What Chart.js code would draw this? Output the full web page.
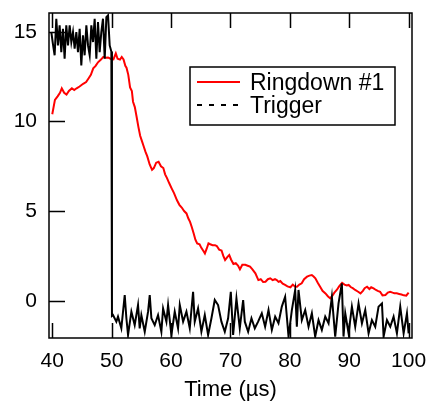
<!DOCTYPE html>
<html>
<head>
<meta charset="utf-8">
<script src="https://cdn.jsdelivr.net/npm/chart.js@4/dist/chart.umd.min.js"></script>
<style>
  html, body { margin: 0; padding: 0; background: #fff; }
  #wrap { width: 428px; height: 403px; }
</style>
</head>
<body>
<div id="wrap"><canvas id="c" width="428" height="403"></canvas></div>
<script>
// time axis in µs
const ringdownX = [40.0, 40.45, 40.9, 41.3, 41.6, 42.0, 42.4, 42.8, 43.3, 43.7, 44.1, 44.6, 45.2, 45.7, 46.1, 46.5, 46.9, 47.3, 47.7, 48.2,
  48.6, 49.0, 49.4, 49.8, 50.3, 50.7, 51.0, 51.4, 51.7, 52.0, 52.3, 52.5, 52.8, 53.1, 53.4, 53.6, 53.9, 54.2, 54.5, 54.8,
  55.1, 55.4, 55.7, 56.0, 56.4, 56.8, 57.1, 57.5, 57.9, 58.3, 58.7, 59.0, 59.3, 59.7, 60.1, 60.5, 61.0, 61.4, 61.8, 62.2,
  62.6, 62.9, 63.2, 63.5, 63.8, 64.1, 64.4, 64.8, 65.1, 65.4, 65.7, 66.0, 66.3, 66.6, 67.0, 67.4, 67.7, 68.1, 68.5, 68.8,
  69.1, 69.5, 69.8, 70.1, 70.5, 70.9, 71.3, 71.6, 72.0, 72.5, 72.9, 73.3, 73.7, 74.2, 74.5, 74.7, 75.1, 75.5, 75.9, 76.3,
  76.7, 77.1, 77.5, 77.8, 78.1, 78.4, 78.8, 79.2, 79.6, 80.1, 80.5, 80.9, 81.2, 81.6, 82.0, 82.4, 82.9, 83.3, 83.7, 84.0,
  84.3, 84.7, 85.1, 85.5, 86.0, 86.4, 86.8, 87.2, 87.5, 87.9, 88.3, 88.8, 89.2, 89.6, 89.9, 90.3, 90.6, 91.0, 91.5, 91.9,
  92.3, 92.6, 93.0, 93.4, 93.7, 94.1, 94.5, 94.8, 95.2, 95.6, 96.1, 96.5, 96.9, 97.3, 97.6, 98.0, 98.4, 98.8, 99.2, 99.6, 100.0];
const ringdownY = [10.4, 11.2, 11.4, 11.6, 11.85, 11.6, 11.5, 11.7, 11.85, 11.75, 11.85, 11.95, 12.1, 12.2, 12.4, 12.6, 12.96, 13.1, 13.3, 13.45,
  13.6, 13.55, 13.57, 13.5, 13.46, 13.8, 13.5, 13.45, 13.6, 13.46, 13.1, 13.0, 12.6, 11.9, 11.7, 11.1, 10.8, 10.26, 9.7, 9.2,
  8.9, 8.6, 8.3, 8.05, 7.6, 7.3, 7.4, 7.7, 7.75, 7.5, 7.4, 7.05, 6.85, 6.55, 6.27, 6.0, 5.6, 5.35, 5.2, 5.0,
  4.87, 4.6, 4.4, 4.1, 3.76, 3.4, 3.2, 3.15, 2.95, 2.8, 2.64, 2.9, 3.2, 3.15, 3.1, 3.1, 3.05, 2.85, 2.8, 2.5,
  2.27, 2.45, 2.55, 2.3, 2.05, 2.1, 1.95, 1.75, 2.0, 2.0, 1.95, 1.9, 1.75, 1.53, 1.3, 1.15, 1.2, 1.05, 1.06, 1.2,
  1.25, 1.15, 1.2, 1.15, 1.05, 1.1, 0.95, 0.88, 0.8, 0.75, 0.9, 0.78, 0.78, 0.9, 0.97, 1.2, 1.34, 1.4, 1.43, 1.35,
  1.25, 1.0, 0.78, 0.55, 0.41, 0.25, 0.13, 0.3, 0.45, 0.6, 0.8, 1.0, 0.9, 0.85, 0.88, 0.75, 0.7, 0.6, 0.5, 0.41,
  0.55, 0.7, 0.78, 0.65, 0.75, 0.69, 0.6, 0.55, 0.5, 0.3, 0.32, 0.45, 0.5, 0.45, 0.42, 0.41, 0.38, 0.35, 0.3, 0.28, 0.45];

const triggerX = [39.84, 40.12, 40.40, 40.68, 40.96, 41.24, 41.52, 41.80, 42.08, 42.36, 42.65, 42.93, 43.21, 43.49, 43.77, 44.05, 44.33, 44.61,
  44.89, 45.17, 45.45, 45.74, 46.02, 46.30, 46.58, 46.86, 47.14, 47.42, 47.70, 47.98, 48.26, 48.54, 48.83, 49.11, 49.39, 49.67,
  49.95, 50.05,
  50.23, 50.79, 51.07, 51.63, 52.20, 52.48, 52.76, 53.32, 53.88, 54.44, 54.72, 55.00, 55.57, 56.13, 56.41, 56.69, 57.25,
  57.81, 58.37, 58.66, 59.22, 59.50, 60.06, 60.62, 61.18, 61.47, 62.03, 62.59, 63.15, 63.71, 63.99, 64.55, 65.11, 65.68,
  66.24, 66.80, 67.36, 67.92, 68.48, 69.05, 69.61, 70.06, 70.45, 71.01, 71.57, 72.14, 72.42, 72.98, 73.54, 74.10, 74.66,
  75.28, 75.84, 76.41, 76.97, 77.53, 78.09, 78.65, 79.21, 79.78, 80.34, 80.90, 81.18, 81.46, 82.02, 82.59, 83.15, 83.71,
  84.27, 84.83, 85.39, 85.96, 86.52, 87.08, 87.64, 88.20, 88.76, 89.04, 89.33, 89.89, 90.45, 91.01, 91.57, 92.14, 92.70,
  93.26, 93.82, 94.38, 94.94, 95.51, 95.79, 96.35, 96.91, 97.47, 98.03, 98.59, 99.16, 99.72, 100.0];
const triggerY = [14.99, 14.3, 13.69, 15.73, 14.24, 15.36, 13.87, 15.17, 13.5, 15.36, 14.24, 15.36, 14.43, 14.99, 14.06, 14.99, 13.87, 15.17,
  13.13, 14.8, 13.69, 15.36, 14.24, 13.69, 15.36, 14.43, 15.73, 13.5, 15.54, 13.87, 14.99, 15.73, 13.5, 15.82, 15.92, 14.24,
  13.9, -0.85,
  -0.80, -1.17, -0.89, -1.54, 0.32, -0.98, -1.91, -0.61, -1.36, -0.24, -1.54, -0.80, -1.73, -0.61, 0.32, -0.98, -1.36,
  -0.80, -1.73, -0.43, -1.17, -0.24, -1.91, -0.61, -1.54, -0.24, -1.17, -0.61, -1.54, 0.50, -1.17, -0.43, -1.73, -0.80,
  -1.91, -0.98, 0.04, -0.24, -1.17, -1.73, -0.98, 0.50, -1.91, 0.13, -1.54, 0.04, -1.17, -1.73, -0.98, -1.54, -1.17,
  -0.70, -1.45, -0.52, -1.63, -0.89, -1.26, -0.33, 0.22, -2.0, -0.52, 0.60, -1.45, 0.60, -1.08, -0.52, -1.45, -0.70,
  -2.0, -1.08, -1.63, -0.89, -1.26, 0.22, -2.0, -0.15, 0.97, -2.0, -0.70, -1.82, -0.33, -1.45, -0.15, -1.26, -0.52,
  -1.82, -1.08, -1.45, -0.33, -0.15, -2.0, -1.08, -1.45, -0.89, -1.82, -0.33, -1.82, -0.70, -1.82];

const xTicks = [40, 50, 60, 70, 80, 90, 100];
const yTicks = [0, 5, 10, 15];
const seriesNames = ['Ringdown #1', 'Trigger'];

const FONT = "'Liberation Sans', Arial, sans-serif";

function toPoints(xs, ys) {
  return xs.map((x, i) => ({x: x, y: ys[i]}));
}

// box around the plot with inward ticks (Igor style)
const framePlugin = {
  id: 'frame',
  afterDatasetsDraw(chart) {
    const {ctx, chartArea: a, scales} = chart;
    ctx.save();
    ctx.strokeStyle = '#000';
    ctx.lineWidth = 1.5;
    ctx.strokeRect(a.left, a.top, a.right - a.left, a.bottom - a.top);
    ctx.beginPath();
    xTicks.forEach(v => {
      const px = Math.round(scales.x.getPixelForValue(v)) + 0.5;
      ctx.moveTo(px, a.bottom);
      ctx.lineTo(px, a.bottom - 15);
      ctx.moveTo(px, a.top);
      ctx.lineTo(px, a.top + 15);
    });
    yTicks.forEach(v => {
      const py = Math.round(scales.y.getPixelForValue(v)) + 0.5;
      ctx.moveTo(a.left, py);
      ctx.lineTo(a.left + 16, py);
    });
    ctx.stroke();
    ctx.restore();
  }
};

const legendPlugin = {
  id: 'boxLegend',
  afterDraw(chart) {
    const ctx = chart.ctx;
    const ds = chart.data.datasets;
    const bx = 190, by = 67, bw = 205, bh = 58;
    ctx.save();
    ctx.fillStyle = '#fff';
    ctx.fillRect(bx, by, bw, bh);
    ctx.strokeStyle = '#000';
    ctx.lineWidth = 1.5;
    ctx.strokeRect(bx, by, bw, bh);
    ctx.font = '23px ' + FONT;
    ctx.textBaseline = 'alphabetic';
    ctx.fillStyle = '#000';
    const rows = [90, 113];
    ds.forEach((d, i) => {
      const y = rows[i] - 8;
      ctx.beginPath();
      ctx.strokeStyle = d.borderColor;
      ctx.lineWidth = 2;
      ctx.setLineDash(i === 1 ? [5, 7] : []);
      ctx.moveTo(197, y);
      ctx.lineTo(240, y);
      ctx.stroke();
      ctx.setLineDash([]);
      ctx.fillText(d.label, 250, rows[i]);
    });
    ctx.restore();
  }
};

new Chart(document.getElementById('c'), {
  type: 'scatter',
  data: {
    datasets: [
      {
        label: seriesNames[0],
        data: toPoints(ringdownX, ringdownY),
        showLine: true,
        borderColor: '#ff0000',
        borderWidth: 2,
        pointRadius: 0,
        order: 1
      },
      {
        label: seriesNames[1],
        data: toPoints(triggerX, triggerY),
        showLine: true,
        borderColor: '#000000',
        borderWidth: 2,
        pointRadius: 0,
        order: 0
      }
    ]
  },
  options: {
    responsive: false,
    animation: false,
    layout: {padding: {left: 0, top: 13, right: 16, bottom: 0}},
    plugins: {
      legend: {display: false},
      tooltip: {enabled: false}
    },
    scales: {
      x: {
        type: 'linear',
        min: 39.45,
        max: 100.57,
        afterFit: s => {
          s.height = 65;
          s.paddingLeft = 0; s.paddingRight = 0;
        },
        afterBuildTicks: s => { s.ticks = xTicks.map(v => ({value: v})); },
        grid: {display: false, drawTicks: false},
        border: {display: false},
        ticks: {
          color: '#000',
          padding: 11,
          maxRotation: 0,
          font: {family: FONT, size: 21}
        },
        title: {
          display: true,
          text: 'Time (µs)',
          color: '#000',
          padding: 0,
          font: {family: FONT, size: 22}
        }
      },
      y: {
        min: -2.08,
        max: 16.05,
        afterFit: s => {
          s.width = 49;
          s.paddingTop = 0; s.paddingBottom = 0;
        },
        afterBuildTicks: s => { s.ticks = yTicks.map(v => ({value: v})); },
        grid: {display: false, drawTicks: false},
        border: {display: false},
        ticks: {
          color: '#000',
          padding: 12,
          font: {family: FONT, size: 21}
        }
      }
    }
  },
  plugins: [framePlugin, legendPlugin]
});
</script>
</body>
</html>
